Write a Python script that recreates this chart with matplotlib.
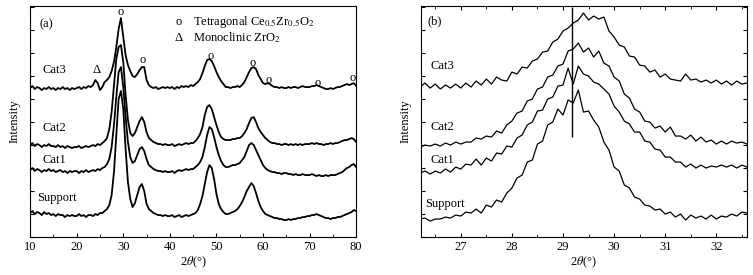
import numpy as np
import matplotlib
matplotlib.use('Agg')
import matplotlib.pyplot as plt
from matplotlib.ticker import MultipleLocator

plt.rcParams['font.family'] = ['Liberation Serif', 'DejaVu Serif']
plt.rcParams['mathtext.fontset'] = 'stix'

# Panel (a): full XRD scan, 2theta grid at 0.5 deg
theta_a = np.arange(10, 80.5, 0.5)

support_a = [
    24, 26, 23, 25, 24, 22, 25, 23, 24, 22,
    23, 21, 23, 22, 22, 20, 22, 21, 22, 21,
    21, 23, 21, 22, 20, 22, 22, 21, 23, 22,
    24, 24, 26, 28, 32, 42, 65, 102, 138, 146,
    128, 88, 55, 38, 30, 34, 42, 50, 53, 46,
    33, 28, 26, 24, 23, 22, 22, 21, 22, 21,
    21, 22, 20, 21, 22, 20, 21, 22, 21, 22,
    23, 24, 27, 33, 41, 53, 65, 72, 69, 58,
    43, 33, 28, 25, 23, 23, 24, 25, 26, 28,
    31, 35, 40, 46, 50, 54, 51, 44, 36, 30,
    26, 23, 22, 21, 20, 19, 19, 18, 18, 17,
    17, 18, 17, 18, 18, 19, 19, 20, 20, 21,
    21, 22, 22, 23, 22, 21, 20, 19, 19, 18,
    19, 19, 20, 20, 21, 22, 23, 24, 25, 27,
    26]
cat1_a = [
    67, 69, 66, 68, 67, 65, 67, 66, 68, 66,
    67, 65, 66, 67, 65, 66, 64, 66, 65, 66,
    66, 64, 66, 65, 67, 65, 66, 67, 66, 68,
    67, 69, 70, 73, 78, 90, 112, 140, 165, 170,
    150, 120, 95, 80, 74, 76, 82, 88, 90, 86,
    78, 72, 70, 68, 67, 66, 66, 65, 66, 65,
    65, 66, 64, 66, 67, 66, 67, 68, 67, 68,
    68, 70, 72, 75, 80, 90, 102, 110, 108, 100,
    90, 82, 76, 72, 70, 70, 71, 72, 72, 73,
    74, 77, 80, 86, 92, 94, 92, 87, 82, 77,
    72, 69, 67, 66, 65, 65, 64, 64, 63, 64,
    64, 63, 63, 62, 63, 62, 62, 63, 62, 62,
    62, 63, 62, 61, 62, 61, 61, 62, 61, 62,
    62, 62, 63, 64, 65, 67, 69, 70, 72, 73,
    70]
cat2_a = [
    92, 94, 91, 93, 92, 90, 92, 91, 93, 91,
    91, 90, 92, 90, 91, 89, 91, 90, 89, 90,
    90, 91, 89, 90, 91, 90, 91, 92, 91, 93,
    92, 94, 96, 99, 108, 125, 152, 178, 190, 192,
    175, 142, 117, 104, 101, 104, 110, 116, 120, 115,
    105, 99, 97, 95, 94, 93, 93, 92, 93, 92,
    92, 93, 91, 92, 93, 92, 93, 94, 93, 94,
    94, 96, 99, 103, 110, 122, 130, 132, 128, 120,
    112, 105, 100, 98, 97, 97, 97, 98, 98, 99,
    99, 101, 104, 108, 114, 119, 120, 115, 109, 105,
    102, 99, 97, 95, 94, 94, 93, 93, 92, 93,
    93, 92, 93, 92, 93, 92, 93, 92, 93, 93,
    93, 94, 93, 94, 93, 93, 92, 93, 93, 94,
    93, 94, 94, 95, 96, 97, 97, 98, 99, 98,
    95]
cat3_a = [
    149, 151, 148, 150, 149, 147, 149, 148, 150, 148,
    149, 147, 149, 148, 150, 148, 149, 147, 149, 148,
    149, 150, 148, 150, 149, 151, 150, 152, 157, 154,
    147, 150, 155, 157, 160, 166, 175, 190, 208, 219,
    200, 182, 172, 166, 161, 160, 163, 167, 170, 170,
    157, 152, 150, 149, 150, 148, 149, 150, 149, 150,
    149, 150, 148, 150, 149, 151, 150, 151, 150, 152,
    151, 153, 155, 158, 164, 171, 177, 178, 176, 171,
    165, 160, 156, 153, 150, 150, 149, 150, 150, 151,
    150, 152, 155, 160, 165, 169, 170, 168, 162, 158,
    154, 153, 154, 153, 151, 150, 150, 149, 150, 149,
    149, 150, 149, 150, 150, 149, 150, 151, 150, 150,
    150, 151, 151, 152, 151, 150, 149, 148, 148, 149,
    148, 149, 150, 150, 151, 152, 153, 152, 153, 154,
    151]

# phase markers (position, height)
tetra_x = [29.4, 34.2, 48.8, 57.8, 61.2, 71.7, 79.2]
tetra_y = [225, 177, 181, 174, 157, 154, 159]
mono_x = [24.2]
mono_y = [167]

# Panel (b): zoom around main peak, grid at 0.1 deg
theta_b = np.round(np.arange(26.2, 32.65, 0.1), 2)

cat3_b = [
    150, 154, 149, 153, 148, 152, 149, 153, 149, 154,
    150, 156, 152, 158, 153, 160, 157, 156, 165, 163,
    170, 169, 176, 178, 185, 186, 195, 198, 206, 209,
    214, 217, 224, 217, 221, 218, 220, 206, 200, 192,
    190, 181, 180, 172, 171, 165, 167, 160, 163, 158,
    157, 156, 163, 157, 158, 155, 157, 154, 157, 153,
    156, 152, 156, 153, 154]
cat2_b = [
    90, 92, 91, 93, 91, 94, 92, 95, 93, 95,
    95, 99, 98, 101, 100, 106, 104, 112, 116, 124,
    126, 136, 138, 148, 150, 160, 162, 171, 173, 186,
    188, 194, 185, 189, 180, 186, 174, 171, 160, 156,
    143, 139, 128, 125, 116, 115, 109, 111, 105, 110,
    101, 101, 98, 102, 96, 100, 95, 97, 93, 96,
    93, 96, 94, 95, 93]
cat1_b = [
    64, 66, 63, 66, 64, 68, 65, 70, 68, 73,
    72, 78, 72, 79, 76, 84, 83, 91, 90, 99,
    102, 112, 115, 126, 127, 138, 140, 151, 152, 169,
    153, 171, 163, 161, 155, 153, 148, 143, 131, 125,
    116, 113, 105, 105, 96, 95, 88, 87, 80, 80,
    75, 75, 70, 73, 69, 72, 69, 71, 70, 72,
    70, 72, 69, 72, 70]
support_b = [
    18, 19, 16, 18, 18, 20, 19, 22, 21, 25,
    24, 28, 24, 32, 30, 37, 35, 44, 49, 59,
    62, 75, 77, 93, 96, 112, 115, 128, 122, 137,
    134, 147, 125, 126, 117, 110, 95, 87, 70, 66,
    52, 49, 40, 38, 32, 31, 27, 28, 23, 25,
    20, 23, 17, 22, 19, 21, 18, 22, 18, 21,
    20, 23, 21, 25, 24]

ref_line_x = 29.18
names = ['Support', 'Cat1', 'Cat2', 'Cat3']

fig = plt.figure(figsize=(7.53, 2.75), dpi=100)
ax1 = fig.add_axes([0.040, 0.138, 0.433, 0.840])
ax2 = fig.add_axes([0.559, 0.138, 0.433, 0.840])

fs = 9

# (a)
for y in [support_a, cat1_a, cat2_a, cat3_a]:
    ax1.plot(theta_a, y, color='black', lw=1.3)
for x, y in zip(tetra_x, tetra_y):
    ax1.text(x, y, 'o', ha='center', va='center', fontsize=fs)
for x, y in zip(mono_x, mono_y):
    ax1.text(x, y, 'Δ', ha='center', va='center', fontsize=fs)
ax1.text(41.9, 215, 'o', ha='center', va='center', fontsize=fs)
ax1.text(45.0, 215, r'Tetragonal Ce$_{0.5}$Zr$_{0.5}$O$_2$', ha='left', va='center', fontsize=fs)
ax1.text(41.9, 199, 'Δ', ha='center', va='center', fontsize=fs)
ax1.text(45.0, 199, r'Monoclinic ZrO$_2$', ha='left', va='center', fontsize=fs)
ax1.text(12, 213, '(a)', fontsize=fs, va='center')
for name, xy in zip(names, [(11.6, 39), (12.6, 77), (12.6, 109), (12.6, 167)]):
    ax1.text(xy[0], xy[1], name, fontsize=fs, va='center')

ax1.set_xlim(10, 80)
ax1.set_ylim(0, 231)
ax1.xaxis.set_major_locator(MultipleLocator(10))
ax1.xaxis.set_minor_locator(MultipleLocator(5))
ax1.yaxis.set_major_locator(MultipleLocator(23))
ax1.set_yticklabels([])
ax1.tick_params(direction='in', labelsize=fs, length=3, pad=3)
ax1.tick_params(which='minor', direction='in', length=2)
ax1.set_xlabel(r'2$\theta$(°)', fontsize=fs, labelpad=1)
ax1.set_ylabel('Intensity', fontsize=fs, labelpad=4)

# (b)
for y in [support_b, cat1_b, cat2_b, cat3_b]:
    ax2.plot(theta_b, y, color='black', lw=0.9)
ax2.vlines(ref_line_x, 100, 230, color='black', lw=1.0)
ax2.text(26.35, 216, '(b)', fontsize=fs, va='center')
for name, xy in zip(names, [(26.3, 33), (26.4, 77), (26.4, 110), (26.4, 171)]):
    ax2.text(xy[0], xy[1], name, fontsize=fs, va='center')

ax2.set_xlim(26.22, 32.6)
ax2.set_ylim(0, 231)
ax2.xaxis.set_major_locator(MultipleLocator(1))
ax2.xaxis.set_minor_locator(MultipleLocator(0.5))
ax2.yaxis.set_major_locator(MultipleLocator(23))
ax2.set_yticklabels([])
ax2.tick_params(direction='in', labelsize=fs, length=3, pad=3, top=True, right=True)
ax2.tick_params(which='minor', direction='in', length=2, top=True)
ax2.set_xlabel(r'2$\theta$(°)', fontsize=fs, labelpad=1)
ax2.set_ylabel('Intensity', fontsize=fs, labelpad=4)

fig.savefig('out.png', dpi=100)
